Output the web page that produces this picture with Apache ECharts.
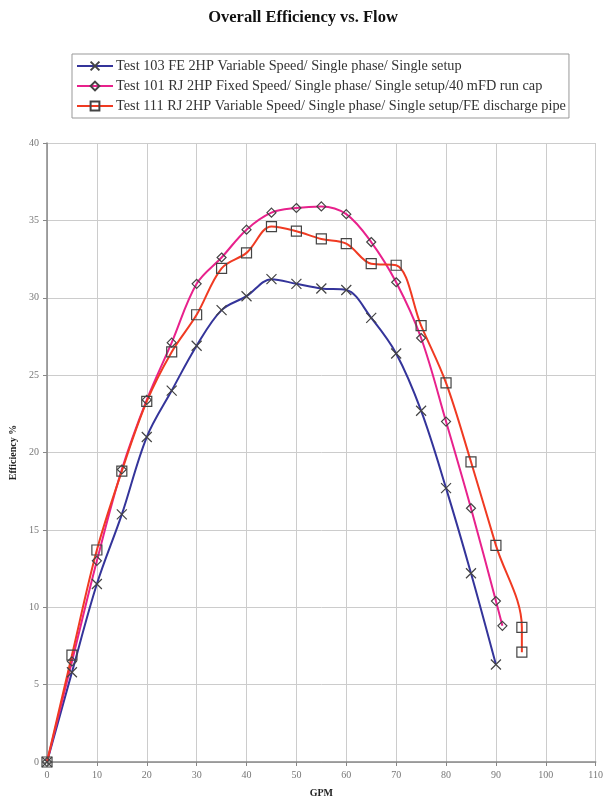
<!DOCTYPE html>
<html>
<head>
<meta charset="utf-8">
<title>Overall Efficiency vs. Flow</title>
<script src="https://cdn.jsdelivr.net/npm/echarts@6/dist/echarts.min.js"></script>
<style>
  html, body { margin: 0; padding: 0; background: #fff; }
  #chart { width: 606px; height: 803px; }
</style>
</head>
<body>
<div id="chart"></div>
<script>
// flow (GPM) and efficiency (%)
const gpm103 = [0, 5, 10, 15, 20, 25, 30, 35, 40, 45, 50, 55, 60, 65, 70, 75, 80, 85, 90];
const eff103 = [0, 5.8, 11.5, 16.0, 21.0, 24.0, 26.9, 29.2, 30.1, 31.2, 30.9, 30.6, 30.5, 28.7, 26.4, 22.7, 17.7, 12.2, 6.3];

const gpm101 = [0, 5, 10, 15, 20, 25, 30, 35, 40, 45, 50, 55, 60, 65, 70, 75, 80, 85, 90, 91.3];
const eff101 = [0, 6.5, 13.0, 18.9, 23.4, 27.1, 30.9, 32.6, 34.4, 35.5, 35.8, 35.9, 35.4, 33.6, 31.0, 27.4, 22.0, 16.4, 10.4, 8.8];

const gpm111 = [0, 5, 10, 15, 20, 25, 30, 35, 40, 45, 50, 55, 60, 65, 70, 75, 80, 85, 90, 95.2, 95.2];
const eff111 = [0, 6.9, 13.7, 18.8, 23.3, 26.5, 28.9, 31.9, 32.9, 34.6, 34.3, 33.8, 33.5, 32.2, 32.1, 28.2, 24.5, 19.4, 14.0, 8.7, 7.1];

const seriesNames = [
  'Test 103 FE 2HP Variable Speed/ Single phase/ Single setup',
  'Test 101 RJ 2HP Fixed Speed/ Single phase/ Single setup/40 mFD run cap',
  'Test 111 RJ 2HP Variable Speed/ Single phase/ Single setup/FE discharge pipe'
];

const serif = '"Liberation Serif", "DejaVu Serif", serif';
const zip = (xs, ys) => xs.map((x, i) => [x, ys[i]]);

const markerStyle = {
  color: 'rgba(255,255,255,0)',
  borderColor: '#444',
  borderWidth: 1.2
};

function makeSeries(name, data, lineColor, symbol, size) {
  return {
    name: name,
    type: 'line',
    data: data,
    smooth: 0.35,
    symbol: symbol,
    symbolSize: size,
    showAllSymbol: true,
    lineStyle: { color: lineColor, width: 2 },
    itemStyle: markerStyle,
    emphasis: { disabled: true },
    z: 3
  };
}

const chart = echarts.init(document.getElementById('chart'), null, { renderer: 'canvas' });

chart.setOption({
  animation: false,
  backgroundColor: '#fff',
  title: {
    text: 'Overall Efficiency vs. Flow',
    left: 'center',
    top: 4,
    textStyle: { fontFamily: serif, fontSize: 16.5, fontWeight: 'bold', color: '#111' }
  },
  legend: {
    orient: 'vertical',
    left: 72,
    top: 54,
    padding: [5, 3, 5, 4],
    itemGap: 6,
    itemWidth: 36,
    itemHeight: 11,
    borderColor: '#999',
    borderWidth: 1,
    backgroundColor: '#fff',
    textStyle: { fontFamily: serif, fontSize: 14.3, color: '#333', padding: [0, 0, 0, -2] },
    data: seriesNames
  },
  grid: { left: 47, right: 8, top: 143, bottom: 41, containLabel: false },
  xAxis: {
    type: 'value',
    min: 0,
    max: 110,
    interval: 10,
    name: 'GPM',
    nameLocation: 'middle',
    nameGap: 26,
    nameTextStyle: { fontFamily: serif, fontSize: 10, fontWeight: 'bold', color: '#222' },
    axisLine: { lineStyle: { color: '#888', width: 1.5 } },
    axisTick: { show: true, length: 4, lineStyle: { color: '#888' } },
    axisLabel: { fontFamily: serif, fontSize: 10, color: '#777', margin: 8 },
    splitLine: { show: true, lineStyle: { color: '#ccc', width: 1 } }
  },
  yAxis: {
    type: 'value',
    min: 0,
    max: 40,
    interval: 5,
    name: 'Efficiency %',
    nameLocation: 'middle',
    nameGap: 20,
    nameRotate: 90,
    nameTextStyle: { fontFamily: serif, fontSize: 10, fontWeight: 'bold', color: '#222' },
    axisLine: { show: true, lineStyle: { color: '#888', width: 1.5 } },
    axisTick: { show: true, length: 4, lineStyle: { color: '#888' } },
    axisLabel: { fontFamily: serif, fontSize: 10, color: '#777', margin: 8 },
    splitLine: { show: true, lineStyle: { color: '#ccc', width: 1 } }
  },
  series: [
    makeSeries(seriesNames[0], zip(gpm103, eff103), '#34349a', 'path://M0,0L10,10M10,0L0,10', 10),
    makeSeries(seriesNames[1], zip(gpm101, eff101), '#e8218c', 'diamond', 9),
    makeSeries(seriesNames[2], zip(gpm111, eff111), '#f03a22', 'rect', 10)
  ]
});
</script>
</body>
</html>
